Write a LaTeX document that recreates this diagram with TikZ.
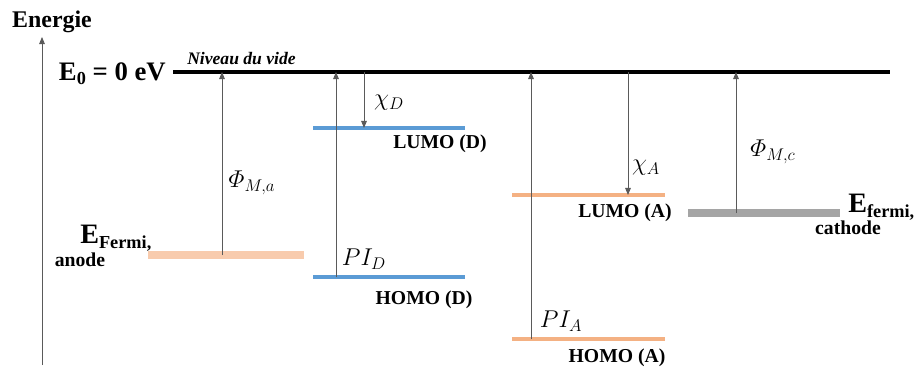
\documentclass[tikz,border=0pt]{standalone}
\usepackage{amsmath}
\usepackage{fontspec}
\setmainfont{Liberation Serif}
\usetikzlibrary{arrows.meta,positioning}
\definecolor{donorblue}{RGB}{91,155,213}
\definecolor{acceptororange}{RGB}{244,177,131}
\definecolor{anodepeach}{RGB}{248,203,173}
\definecolor{cathodegray}{RGB}{165,165,165}
\definecolor{gapgray}{RGB}{90,90,90}

\begin{document}
\begin{tikzpicture}[
    x=0.025cm, y=-0.025cm,
    level/.style={line width=2.6pt, line cap=butt},
    fermi/.style={line width=5pt},
    gap/.style={-{Triangle[length=5pt,width=4pt]}, draw=gapgray, line width=0.6pt},
    lbl/.style={font=\bfseries\fontsize{14}{16}\selectfont, inner sep=0pt},
    sym/.style={font=\fontsize{18}{20}\selectfont, inner sep=0pt}
]
\useasboundingbox (0,0) rectangle (915,369);

% axe des energies
\coordinate (axbot) at (42,365);
\coordinate (axtop) at (42,37);
\draw[gap] (axbot) -- (axtop);
\node[lbl, font=\bfseries\fontsize{17}{19}\selectfont, anchor=base] (energie) at (52,27) {Energie};

% niveau du vide
\coordinate (vac) at (173,72);
\coordinate (vacend) at (890,72);
\draw[line width=2.2pt] (vac) -- (vacend);
\node[lbl, font=\bfseries\fontsize{19}{21}\selectfont, anchor=base east] (e0) at (166,80) {E\raisebox{-0.35ex}{\fontsize{13}{15}\selectfont 0} = 0 eV};
\node[lbl, font=\bfseries\itshape\fontsize{12.5}{14}\selectfont, anchor=base west] (vide) at (187,64) {Niveau du vide};

% niveaux
\draw[fermi, anodepeach] (148,255) coordinate (an0) -- (304,255) coordinate (an1);
\draw[level, donorblue] (313,128) coordinate (ld0) -- (465,128) coordinate (ld1);
\draw[level, donorblue] (313,277) coordinate (hd0) -- (465,277) coordinate (hd1);
\draw[level, acceptororange, line width=2.2pt] (512,195) coordinate (la0) -- (665,195) coordinate (la1);
\draw[level, acceptororange, line width=2.2pt] (512,339) coordinate (ha0) -- (665,339) coordinate (ha1);
\draw[fermi, cathodegray] (688,213) coordinate (ca0) -- (840,213) coordinate (ca1);

% fleches
\coordinate (phia) at (222,255);
\coordinate (pid) at (336,277);
\coordinate (chid) at (364,72);
\coordinate (pia) at (531,339);
\coordinate (chia) at (628,72);
\coordinate (phic) at (736,213);
\draw[gap] (phia) -- (phia |- vac);
\draw[gap] (pid) -- (pid |- vac);
\draw[gap] (chid) -- (chid |- ld0);
\draw[gap] (pia) -- (pia |- vac);
\draw[gap] (chia) -- (chia |- la0);
\draw[gap] (phic) -- (phic |- vac);

% grandeurs
\node[sym] (phiaL) at (252,183) {$\varPhi_{M,a}$};
\node[sym] (pidL) at (364,259) {$PI_D$};
\node[sym] (chidL) at (389,103) {$\chi_D$};
\node[sym] (chiaL) at (646,168) {$\chi_A$};
\node[sym] (piaL) at (561,321) {$PI_A$};
\node[sym] (phicL) at (773,152) {$\varPhi_{M,c}$};

% noms des niveaux
\node[lbl] (lumod) at (440,144) {LUMO (D)};
\node[lbl] (homod) at (424,300) {HOMO (D)};
\node[lbl] (lumoa) at (625,213) {LUMO (A)};
\node[lbl] (homoa) at (617,358) {HOMO (A)};

% electrodes
\node[lbl, font=\bfseries\fontsize{20}{22}\selectfont, anchor=base west] (efa) at (80,243) {E\raisebox{-0.4ex}{\fontsize{13}{15}\selectfont Fermi,}};
\node[lbl, anchor=north west, below=1pt of efa.south west] (anode) {anode};
\node[lbl, font=\bfseries\fontsize{20}{22}\selectfont, anchor=base west] (efc) at (848,212) {E\raisebox{-0.4ex}{\fontsize{13}{15}\selectfont fermi,}};
\node[lbl, anchor=north west, below=0pt of efc.south west] (cathode) {cathode};
\end{tikzpicture}
\end{document}
